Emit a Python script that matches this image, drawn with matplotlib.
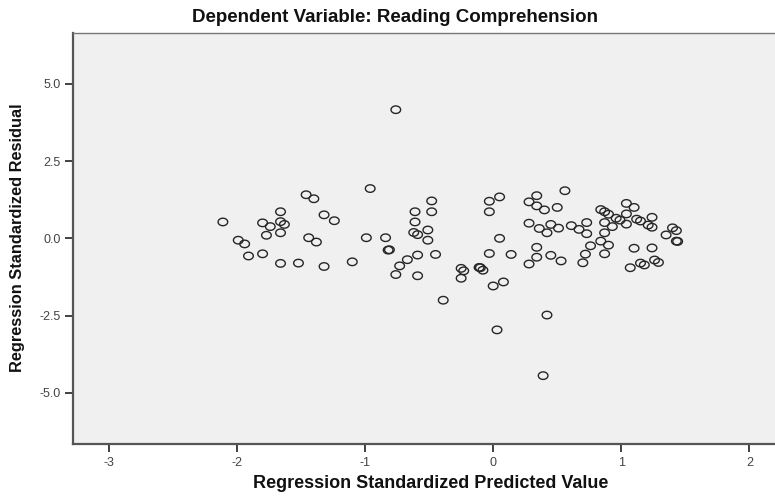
import matplotlib
matplotlib.use("Agg")
import matplotlib.pyplot as plt
import numpy as np
from matplotlib.path import Path

plt.rcParams['font.family'] = ['Liberation Sans', 'DejaVu Sans']

# Regression standardized predicted value (x) and residual (y)
pred_left = [-2.11, -1.46, -1.40, -1.66, -1.80, -1.74, -1.66, -1.63, -1.66, -1.77, -1.32, -1.24,
             -1.99, -1.94, -1.91, -1.80, -1.44, -1.38, -1.66, -1.52, -1.32]
resid_left = [0.53, 1.41, 1.28, 0.86, 0.50, 0.38, 0.54, 0.45, 0.18, 0.10, 0.76, 0.57,
              -0.06, -0.18, -0.57, -0.50, 0.02, -0.12, -0.81, -0.80, -0.91]

pred_mid = [-0.96, -0.48, -0.61, -0.48, -0.61, -0.62, -0.59, -0.51, -0.51, -0.99, -0.84, -0.82,
            -0.81, -1.10, -0.59, -0.45, -0.67, -0.73, -0.76, -0.59, -0.76, -0.39]
resid_mid = [1.61, 1.21, 0.86, 0.86, 0.53, 0.19, 0.12, 0.27, -0.06, 0.02, 0.02, -0.38,
             -0.37, -0.76, -0.54, -0.52, -0.69, -0.89, -1.17, -1.21, 4.16, -2.00]

pred_center = [0.05, -0.03, -0.03, 0.05, -0.03, 0.14, 0.34, 0.28, 0.34, 0.40, 0.50, 0.56,
               0.28, 0.36, 0.45, 0.42, 0.51, 0.61, 0.34, 0.34, 0.28, 0.45, 0.53, -0.25,
               -0.23, -0.11, -0.10, -0.08, -0.25, 0.00, 0.08, 0.03, 0.42, 0.39]
resid_center = [1.34, 1.20, 0.86, 0.00, -0.49, -0.52, 1.38, 1.18, 1.05, 0.92, 1.00, 1.54,
                0.49, 0.32, 0.45, 0.18, 0.33, 0.41, -0.29, -0.61, -0.83, -0.55, -0.73, -0.97,
                -1.05, -0.94, -0.95, -1.03, -1.29, -1.54, -1.41, -2.96, -2.48, -4.44]

pred_right = [0.67, 0.73, 0.73, 0.76, 0.72, 0.70, 0.84, 0.87, 0.90, 0.87, 0.93, 0.87, 0.84,
              0.90, 0.87, 0.96, 0.99, 1.04, 1.10, 1.04, 1.04, 1.12, 1.15, 1.24, 1.21, 1.24,
              1.10, 1.24, 1.07, 1.15, 1.18, 1.26, 1.29, 1.35, 1.40, 1.43, 1.43, 1.44]
resid_right = [0.29, 0.51, 0.15, -0.24, -0.51, -0.79, 0.93, 0.86, 0.78, 0.51, 0.38, 0.18, -0.09,
               -0.22, -0.50, 0.65, 0.59, 1.13, 1.00, 0.79, 0.46, 0.62, 0.56, 0.68, 0.43, 0.36,
               -0.32, -0.31, -0.95, -0.80, -0.86, -0.70, -0.78, 0.11, 0.34, 0.25, -0.09, -0.10]

x_ticks = [-3, -2, -1, 0, 1, 2]
x_tick_labels = ["-3", "-2", "-1", "0", "1", "2"]
y_ticks = [5.0, 2.5, 0.0, -2.5, -5.0]
y_tick_labels = ["5.0", "2.5", "0.0", "-2.5", "-5.0"]

title = "Dependent Variable: Reading Comprehension"
x_label = "Regression Standardized Predicted Value"
y_label = "Regression Standardized Residual"

pred = pred_left + pred_mid + pred_center + pred_right
resid = resid_left + resid_mid + resid_center + resid_right

W, H = 775, 497
fig = plt.figure(figsize=(W / 100, H / 100), dpi=100)
fig.patch.set_facecolor('white')
ax = fig.add_axes([73 / W, 1 - 444 / H, (775 - 73) / W, (444 - 33) / H])
ax.set_facecolor('#f0f0f0')

# slightly flattened circle marker
t = np.linspace(0, 2 * np.pi, 60)
verts = np.column_stack([np.cos(t), 0.78 * np.sin(t)])
ell = Path(verts, closed=True)

ax.scatter(pred, resid, marker=ell, s=48, facecolors='none',
           edgecolors='#262626', linewidths=1.0, zorder=3)

ax.set_xlim(-3.28, 2.20)
ax.set_ylim(-6.65, 6.64)
ax.set_xticks(x_ticks)
ax.set_xticklabels(x_tick_labels)
ax.set_yticks(y_ticks)
ax.set_yticklabels(y_tick_labels)
ax.tick_params(axis='both', direction='out', length=6, width=1.3, color='#333333',
               labelsize=9, labelcolor='#444444', pad=3)

for side in ['left', 'bottom']:
    ax.spines[side].set_color('#555555')
    ax.spines[side].set_linewidth(1.6)
ax.spines['top'].set_color('#777777')
ax.spines['top'].set_linewidth(1.0)
ax.spines['right'].set_visible(False)

fig.text(395 / W, 1 - 17 / H, title, ha='center', va='center',
         fontsize=13.5, fontweight='bold', color='#111111')
fig.text(431 / W, 1 - 484 / H, x_label, ha='center', va='center',
         fontsize=13, fontweight='bold', color='#111111')
fig.text(18 / W, 1 - 238 / H, y_label, ha='center', va='center', rotation=90,
         fontsize=11.8, fontweight='bold', color='#111111')

fig.savefig('out.png', dpi=100)
